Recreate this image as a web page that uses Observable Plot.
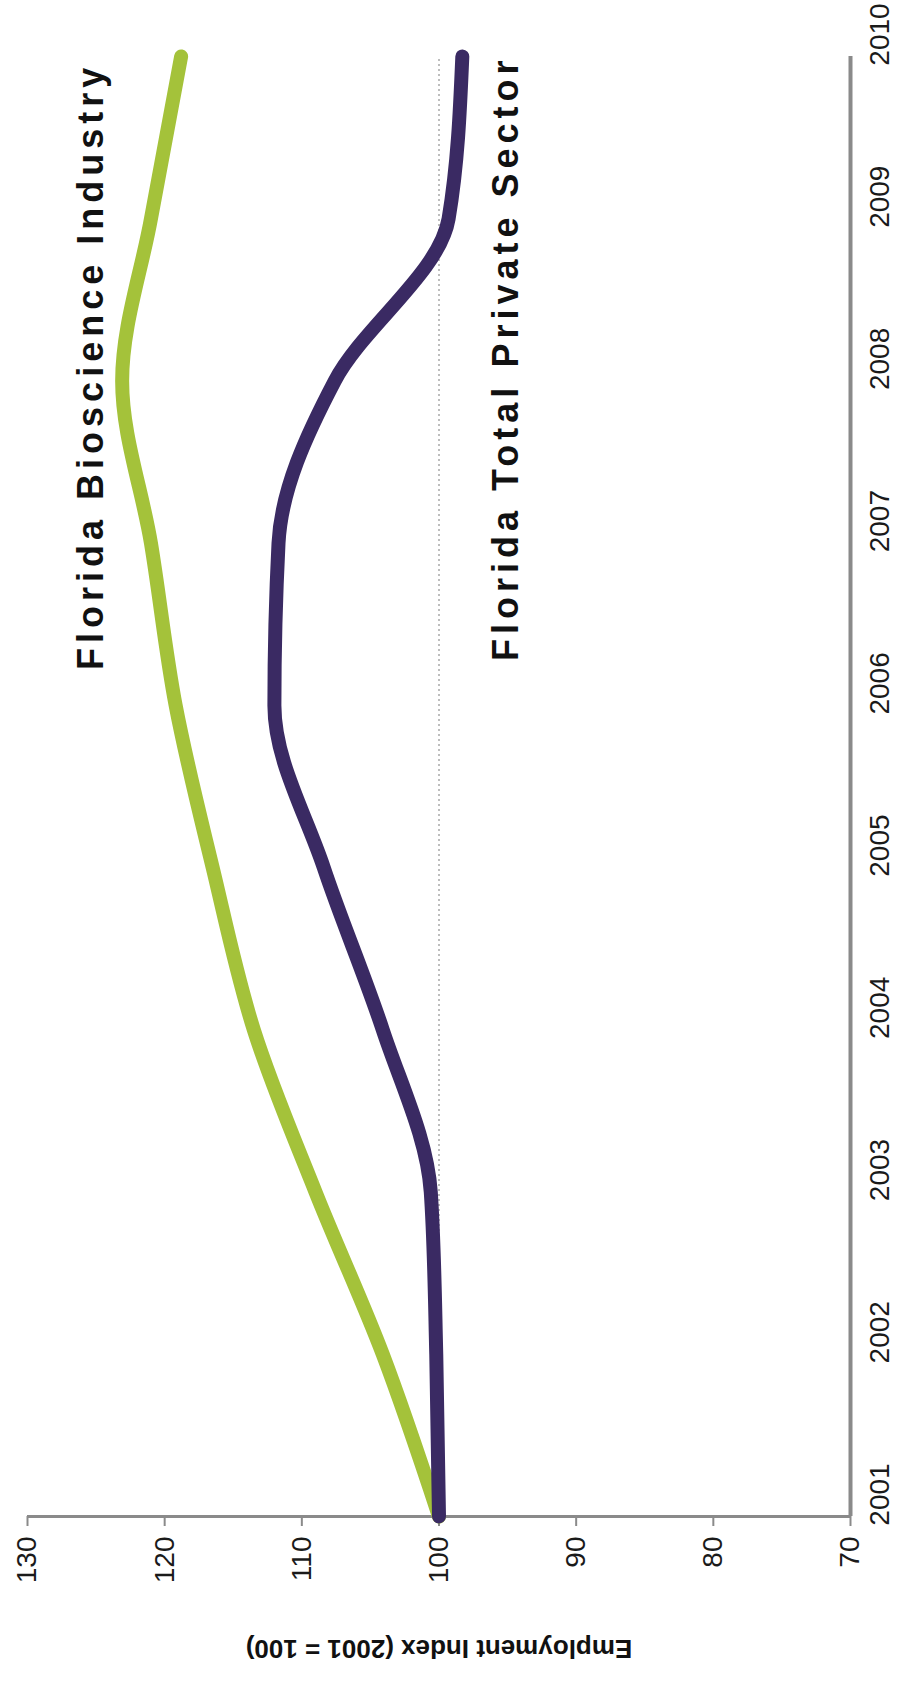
<!DOCTYPE html>
<html>
<head>
<meta charset="utf-8">
<script src="https://cdn.jsdelivr.net/npm/d3@7"></script>
<script src="https://cdn.jsdelivr.net/npm/@observablehq/plot@0.6"></script>
<style>
  html, body { margin: 0; padding: 0; background: #ffffff; }
  #chart svg { display: block; }
</style>
</head>
<body>
<div id="chart"></div>
<script>
// ---- data ----
const years = [2001, 2002, 2003, 2004, 2005, 2006, 2007, 2008, 2009, 2010];
const bioscience = [100, 104.1, 109.0, 113.5, 116.5, 119.2, 121.0, 123.1, 121.0, 118.8];
const privateSector = [100, 100.2, 100.6, 104.1, 108.4, 112.0, 111.7, 107.6, 99.3, 98.3];
const seriesNames = ["Florida Bioscience Industry", "Florida Total Private Sector"];
const valueTicks = [130, 120, 110, 100, 90, 80, 70];
const axisTitle = "Employment Index (2001 = 100)";
const labelValues = [125.3, 95.1];
const labelYears = [2008.09, 2008.14];

const colors = ["#a4c23a", "#3a2a63"];

const rows = [];
years.forEach((yr, i) => {
  rows.push({series: seriesNames[0], year: yr, value: bioscience[i]});
  rows.push({series: seriesNames[1], year: yr, value: privateSector[i]});
});
const labels = seriesNames.map((s, i) => ({text: s, value: labelValues[i], year: labelYears[i]}));

const chart = Plot.plot({
  width: 906,
  height: 1689,
  marginLeft: 27,
  marginRight: 56,
  marginTop: 56,
  marginBottom: 173,
  style: {fontFamily: "'Liberation Sans', Arial, sans-serif", background: "#ffffff", color: "#1a1a1a"},
  x: {domain: [130, 70]},
  y: {domain: [2001, 2010]},
  color: {domain: seriesNames, range: colors},
  marks: [
    Plot.ruleX([100], {y1: 2001, y2: 2010, stroke: "#a8a8a8", strokeWidth: 1.5, strokeDasharray: "2,3"}),
    Plot.axisX({ticks: valueTicks, tickFormat: d => String(d), tickRotate: -90, tickSize: 10, tickPadding: 10,
      fontSize: 28, stroke: "#8a8a8a", strokeWidth: 2, label: null}),
    Plot.axisY({anchor: "right", ticks: years, tickFormat: d => String(d), tickRotate: -90, tickSize: 0,
      tickPadding: 38, fontSize: 28, dy: -22, label: null}),
    Plot.ruleY([2001], {x1: 130, x2: 70, stroke: "#8a8a8a", strokeWidth: 3}),
    Plot.ruleX([70], {y1: 2001, y2: 2010, stroke: "#8a8a8a", strokeWidth: 4}),
    Plot.line(rows, {x: "value", y: "year", z: "series", stroke: "series", strokeWidth: 14,
      curve: "monotone-y", strokeLinejoin: "round"}),
    Plot.text(labels, {x: "value", y: "year", text: "text", rotate: -90, fontSize: 36, fontWeight: "bold",
      fill: "#111", textAnchor: "middle", lineAnchor: "middle"}),
    Plot.text([axisTitle], {frameAnchor: "bottom", rotate: 180, dy: 132, fontSize: 26, fontWeight: "bold",
      fill: "#111", lineAnchor: "middle"})
  ]
});
chart.querySelectorAll("text").forEach(t => {
  if (seriesNames.includes(t.textContent)) t.style.letterSpacing = "5px";
});
document.getElementById("chart").appendChild(chart);
</script>
</body>
</html>
